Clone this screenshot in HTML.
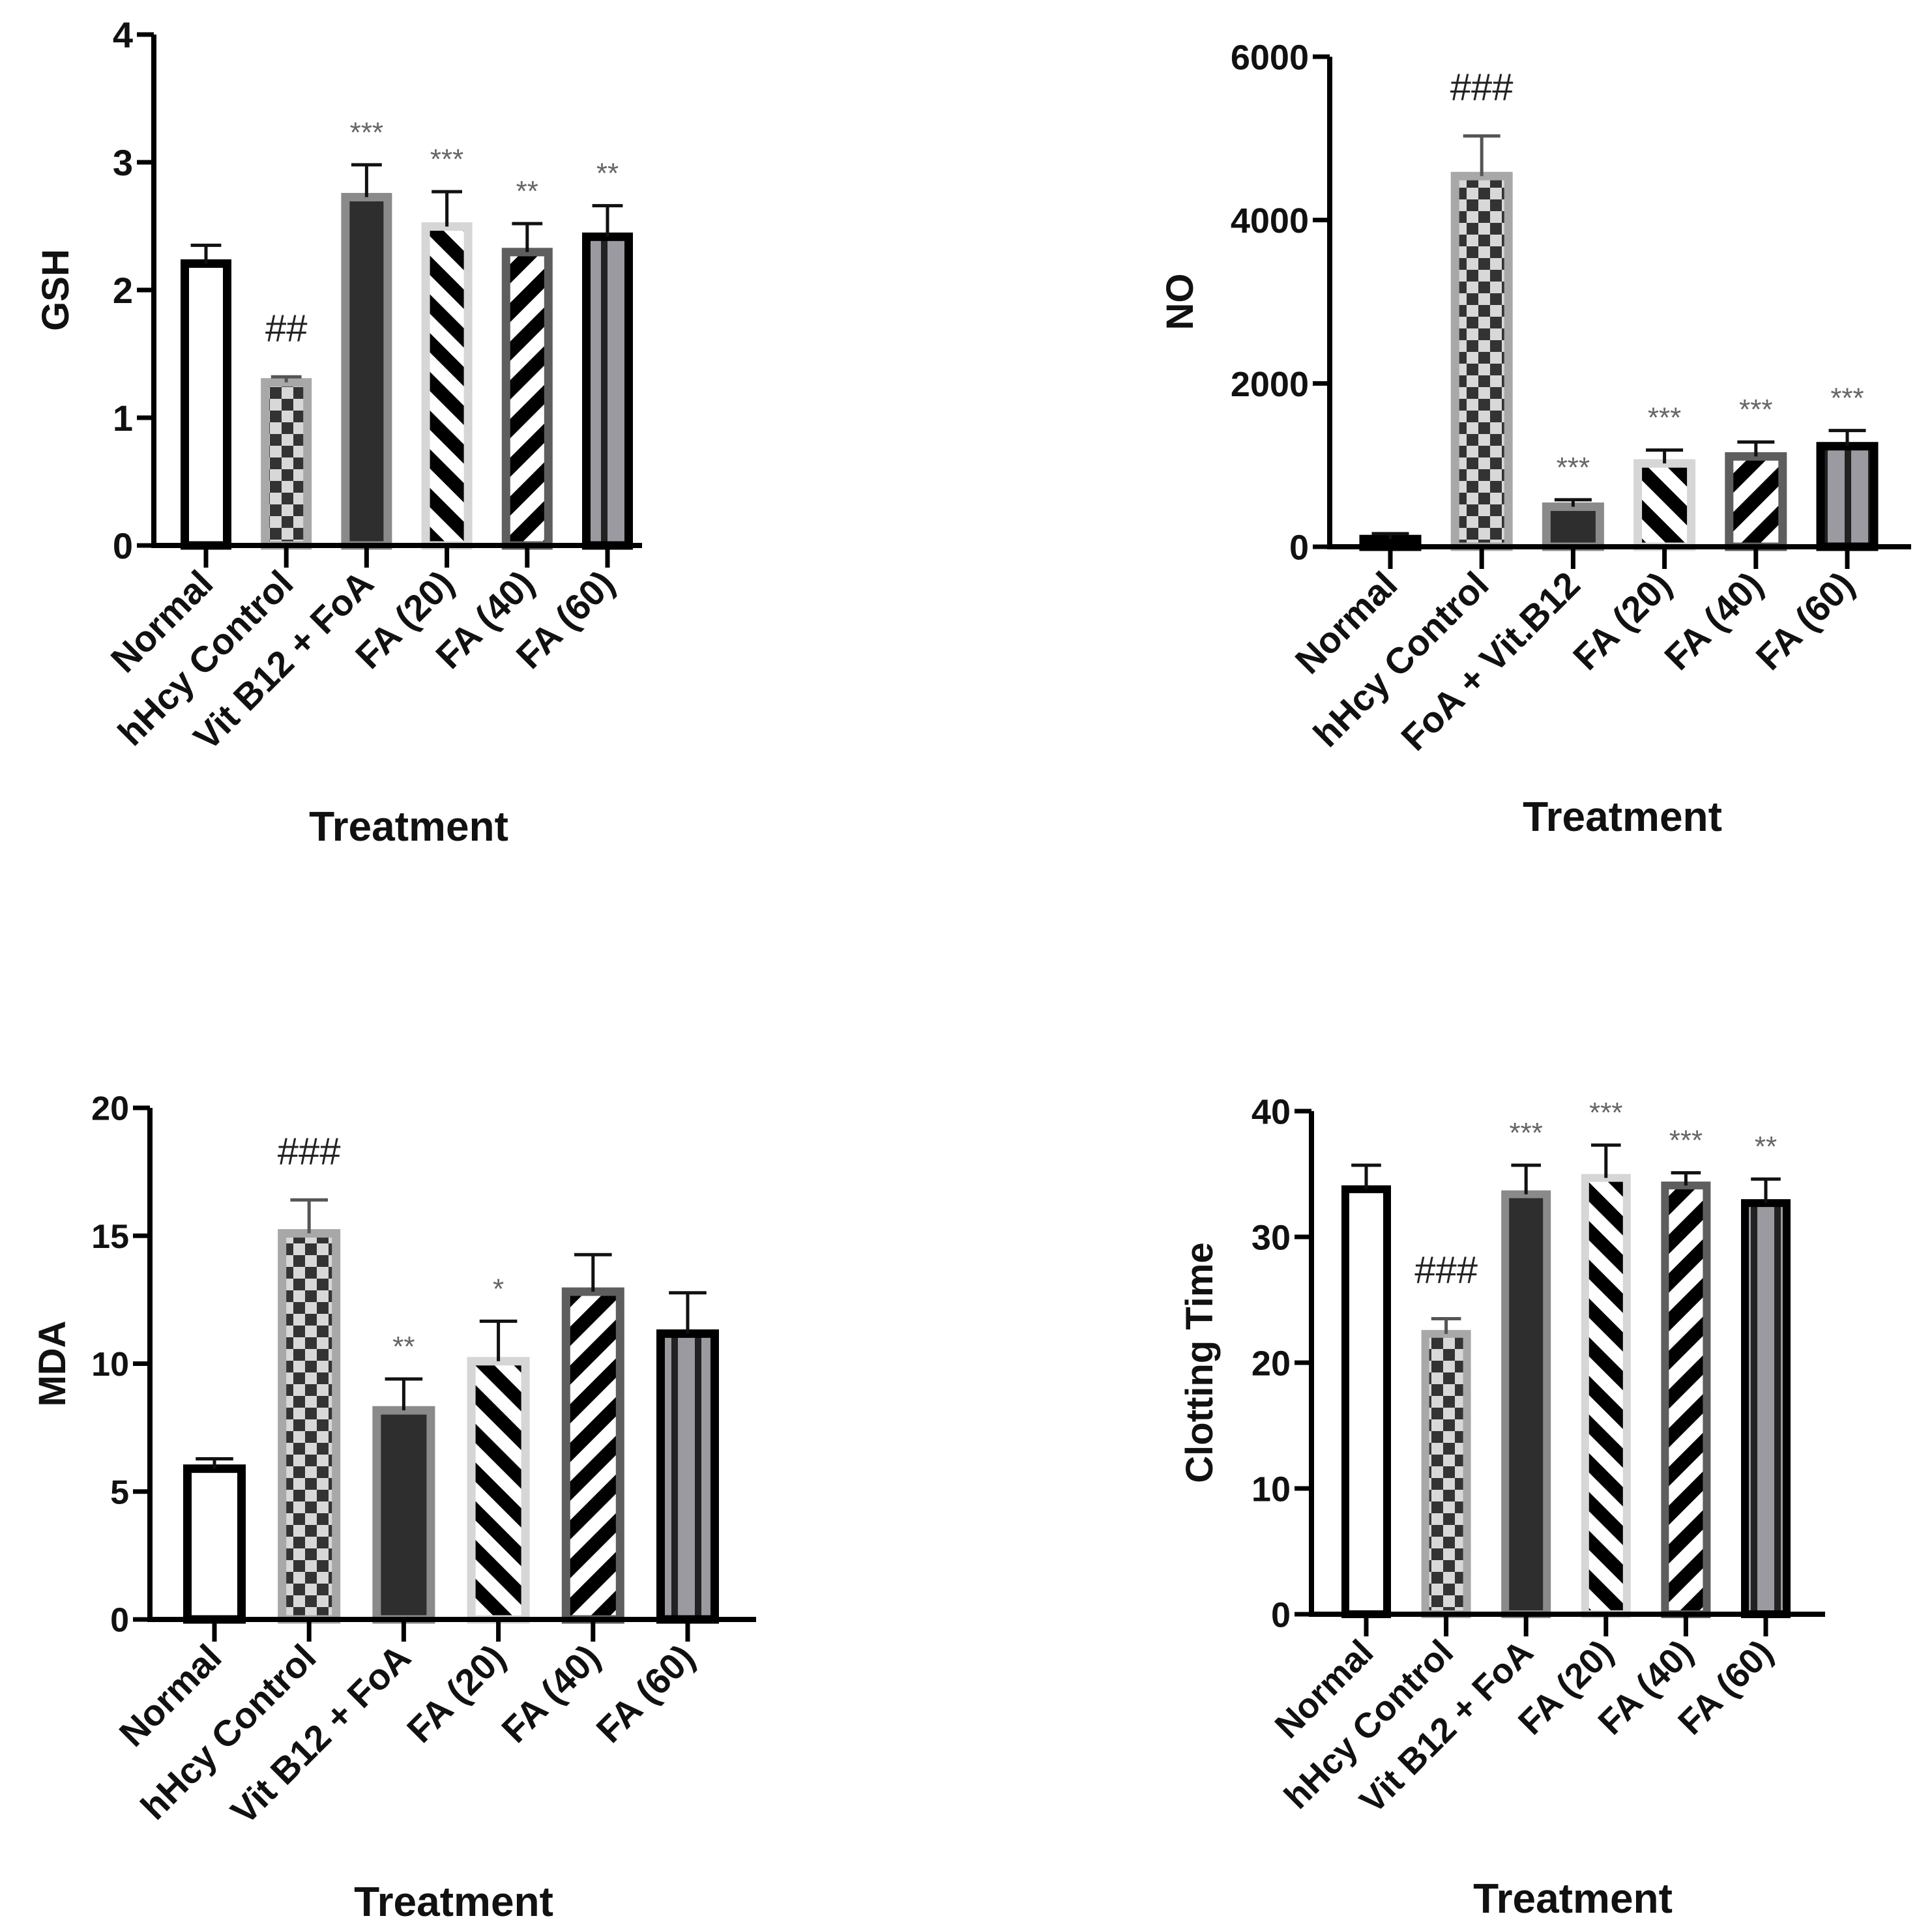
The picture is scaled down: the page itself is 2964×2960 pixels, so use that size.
<!DOCTYPE html>
<html><head><meta charset="utf-8"><style>
html,body{margin:0;padding:0;background:#fff;}
svg{display:block;font-family:"Liberation Sans",Arial,sans-serif;}
</style></head><body>
<svg id="fig" width="2964" height="2960" viewBox="0 0 2964 2960" xmlns="http://www.w3.org/2000/svg">
<defs>
<pattern id="checker" width="36" height="36" patternUnits="userSpaceOnUse"><rect width="36" height="36" fill="#d8d8d8"/><rect width="18" height="18" fill="#333"/><rect x="18" y="18" width="18" height="18" fill="#333"/></pattern>
<pattern id="diagBack" width="42" height="42" patternUnits="userSpaceOnUse" patternTransform="rotate(-45)"><rect width="42" height="42" fill="#fff"/><rect width="21" height="42" fill="#000"/></pattern>
<pattern id="diagFwd" width="42" height="42" patternUnits="userSpaceOnUse" patternTransform="rotate(45)"><rect width="42" height="42" fill="#fff"/><rect width="21" height="42" fill="#000"/></pattern>
<pattern id="vstripe" width="36" height="36" patternUnits="userSpaceOnUse"><rect width="36" height="36" fill="#9a9aa0"/><rect x="22" width="10" height="36" fill="#222"/></pattern>
</defs>
</svg>
<script>
// ---- GSH ----
const gshCategories = ['Normal','hHcy Control','Vit B12 + FoA','FA (20)','FA (40)','FA (60)'];
const gshValues = [2.24, 1.31, 2.76, 2.53, 2.33, 2.45];
const gshErrors = [0.11, 0.01, 0.22, 0.24, 0.19, 0.21];
const gshTicks = [0, 1, 2, 3, 4];
const gshMarks = ['', '##', '***', '***', '**', '**'];
// ---- NO ----
const noCategories = ['Normal','hHcy Control','FoA + Vit.B12','FA (20)','FA (40)','FA (60)'];
const noValues = [146, 4590, 542, 1072, 1158, 1283];
const noErrors = [15, 440, 33, 112, 125, 140];
const noTicks = [0, 2000, 4000, 6000];
const noMarks = ['', '###', '***', '***', '***', '***'];
// ---- MDA ----
const mdaCategories = ['Normal','hHcy Control','Vit B12 + FoA','FA (20)','FA (40)','FA (60)'];
const mdaValues = [6.06, 15.26, 8.34, 10.26, 12.98, 11.34];
const mdaErrors = [0.22, 1.14, 1.06, 1.40, 1.28, 1.43];
const mdaTicks = [0, 5, 10, 15, 20];
const mdaMarks = ['', '###', '**', '*', '', ''];
// ---- Clotting ----
const ctCategories = ['Normal','hHcy Control','Vit B12 + FoA','FA (20)','FA (40)','FA (60)'];
const ctValues = [34.1, 22.6, 33.7, 35.0, 34.4, 33.0];
const ctErrors = [1.6, 0.9, 2.0, 2.3, 0.7, 1.6];
const ctTicks = [0, 10, 20, 30, 40];
const ctMarks = ['', '###', '***', '***', '***', '**'];

const NS = 'http://www.w3.org/2000/svg';
const svg = document.getElementById('fig');
const styles = [
  {fill:'#fff', stroke:'#000'},
  {fill:'url(#checker)', stroke:'#a8a8a8'},
  {fill:'#2e2e2e', stroke:'#8a8a8a'},
  {fill:'url(#diagBack)', stroke:'#d6d6d6'},
  {fill:'url(#diagFwd)', stroke:'#5e5e5e'},
  {fill:'url(#vstripe)', stroke:'#000'}
];
function mk(tag, attrs, parent){
  const e = document.createElementNS(NS, tag);
  for (const k in attrs) e.setAttribute(k, attrs[k]);
  (parent||svg).appendChild(e);
  return e;
}
function panel(name, cats, vals, errs, ticks, marks, L){
  const g = mk('g', {});
  
  
  const maxV = ticks[ticks.length-1];
  const yS = v => L.y0 - (v / maxV) * (L.y0 - L.yTop);
  const xS = i => L.c0 + i * L.step;
  cats.forEach((c, i) => {
    const st = styles[i];
    const top = yS(vals[i]);
    const sw = L.sw;
    const r = mk('rect', {x: xS(i) - L.bw/2 + sw/2, y: top + sw/2, width: L.bw - sw, height: L.y0 - top - sw/2, fill: st.fill, stroke: st.stroke, 'stroke-width': sw}, g);
    
    
    const et = yS(vals[i] + errs[i]);
    const e1 = mk('path', {d: 'M' + xS(i) + ' ' + (top + sw/2) + 'V' + et + 'M' + (xS(i) - L.bw*0.3) + ' ' + et + 'H' + (xS(i) + L.bw*0.3), stroke: i === 1 ? '#555' : '#111', 'stroke-width': 5, fill: 'none'}, g);
    
    
    if (marks[i]) {
      const isHash = marks[i][0] === '#';
      const t = mk('text', {x: xS(i), y: et - (isHash ? 55 : 35), 'text-anchor': 'middle', 'font-size': isHash ? 58 : 44, fill: isHash ? '#222' : '#666'}, g);
      t.textContent = marks[i];
      
      
    }
    mk('line', {x1: xS(i), x2: xS(i), y1: L.y0, y2: L.y0 + 34, stroke: '#000', 'stroke-width': 7}, g);
    const lx = xS(i) + 14, ly = L.y0 + 62;
    const lt = mk('text', {x: lx, y: ly, 'text-anchor': 'end', 'font-size': L.lf, 'font-weight': 'bold', fill: '#111', transform: 'rotate(-45 ' + lx + ' ' + ly + ')'}, g);
    lt.textContent = c;
    
    
  });
  const ax = mk('path', {d: 'M' + L.ax + ' ' + yS(maxV) + 'V' + L.y0 + 'M' + (L.ax - 4) + ' ' + L.y0 + 'H' + L.xEnd, stroke: '#000', 'stroke-width': 8, fill: 'none'}, g);
  
  
  ticks.forEach(t => {
    mk('line', {x1: L.ax - 26, x2: L.ax, y1: yS(t), y2: yS(t), stroke: '#000', 'stroke-width': 7}, g);
    const tl = mk('text', {x: L.ax - 32, y: yS(t) + L.tf*0.36, 'text-anchor': 'end', 'font-size': L.tf, 'font-weight': 'bold', fill: '#111'}, g);
    tl.textContent = t;
    
    
  });
  const yt = mk('text', {x: L.ytx, y: (L.y0 + yS(maxV))/2, 'text-anchor': 'middle', 'font-size': 58, 'font-weight': 'bold', fill: '#111', transform: 'rotate(-90 ' + L.ytx + ' ' + ((L.y0 + yS(maxV))/2) + ')'}, g);
  yt.textContent = L.title;
  
  
  const xt = mk('text', {x: L.xtx, y: L.xty, 'text-anchor': 'middle', 'font-size': 64, 'font-weight': 'bold', fill: '#111'}, g);
  xt.textContent = 'Treatment';
  
  
}
panel('gsh', gshCategories, gshValues, gshErrors, gshTicks, gshMarks,
  {ax:236, y0:837, yTop:53, c0:316, step:123.2, bw:78, sw:13, xEnd:985, tf:56, lf:56, ytx:105, title:'GSH', xtx:627, xty:1290});
panel('no', noCategories, noValues, noErrors, noTicks, noMarks,
  {ax:2040, y0:839, yTop:87, c0:2133, step:140.2, bw:95, sw:13, xEnd:2932, tf:54, lf:56, ytx:1830, title:'NO', xtx:2489, xty:1275});
panel('mda', mdaCategories, mdaValues, mdaErrors, mdaTicks, mdaMarks,
  {ax:230, y0:2485, yTop:1700, c0:329, step:145.2, bw:96, sw:13, xEnd:1160, tf:52, lf:56, ytx:100, title:'MDA', xtx:696, xty:2940});
panel('clotting', ctCategories, ctValues, ctErrors, ctTicks, ctMarks,
  {ax:2012, y0:2477, yTop:1705, c0:2096, step:122.6, bw:76, sw:12, xEnd:2800, tf:54, lf:54, ytx:1860, title:'Clotting Time', xtx:2413, xty:2935});
</script>
</body></html>
